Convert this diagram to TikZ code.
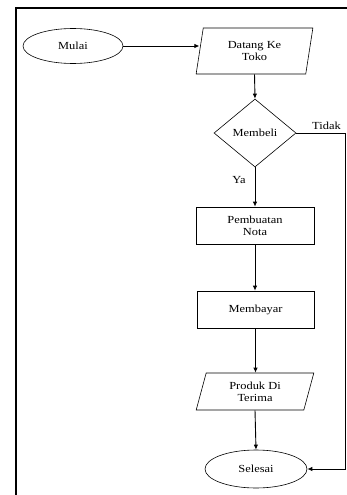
\documentclass[tikz,border=0pt]{standalone}
\usepackage{fontspec}
\setmainfont{Liberation Serif}
\newfontfamily\boxfont{Liberation Serif}[FakeStretch=1.15]
\usetikzlibrary{shapes.geometric,arrows.meta}
\begin{document}
\begin{tikzpicture}[x=1pt,y=-1pt,
  every node/.style={font=\boxfont\fontsize{10.8}{12}\selectfont, align=center, inner sep=0pt},
  shape line/.style={draw, line width=0.6pt},
  terminal/.style={shape line, ellipse},
  io/.style={shape line, trapezium, trapezium left angle=#1, trapezium right angle=180-#1, trapezium stretches=true},
  process/.style={shape line, rectangle},
  decision/.style={shape line, diamond},
  arr/.style={line width=0.9pt, -{Latex[length=5pt,width=4.5pt]}},
  link/.style={line width=0.9pt}]
\useasboundingbox (0,0) rectangle (346,495);

% page frame (only the top and left edges fall inside the page)
\draw[line width=1.3pt] (16,500) -- (16,8) -- (350,8);

% shapes
\node[terminal, minimum width=100pt, minimum height=35pt] (mulai) at (73,46) {Mulai};
\node[io=79, minimum width=117pt, minimum height=46pt] (datang) at (254.5,51) {Datang Ke\\Toko};
\node[decision, minimum width=82pt, minimum height=68pt] (membeli) at (255,133) {Membeli};
\node[process, minimum width=118pt, minimum height=37pt] (nota) at (255,225.5) {Pembuatan\\Nota};
\node[process, minimum width=117pt, minimum height=37pt] (bayar) at (255.5,309.5) {Membayar};
\node[io=75, minimum width=118pt, minimum height=37pt] (produk) at (255,391.5) {Produk Di\\Terima};
\node[terminal, minimum width=102pt, minimum height=38pt] (selesai) at (256,469) {Selesai};

% corner of the "Tidak" branch
\coordinate (tdk) at (345,133);

% connectors
\draw[arr] (mulai.east) -- (mulai.east -| datang.west);
\draw[arr] (datang.south) -- (membeli.north);
\draw[arr] (membeli.south) -- node[pos=0.33, left=9pt] {Ya} (nota.north);
\draw[arr] (nota.south) -- (bayar.north -| nota.south);
\draw[arr] (bayar.south) -- (produk.north -| bayar.south);
\draw[arr] (produk.south) -- (selesai.north);
\draw[arr] (membeli.east) -- node[pos=0.62, above=3pt] {Tidak} (tdk) |- (selesai.east);
\end{tikzpicture}
\end{document}
